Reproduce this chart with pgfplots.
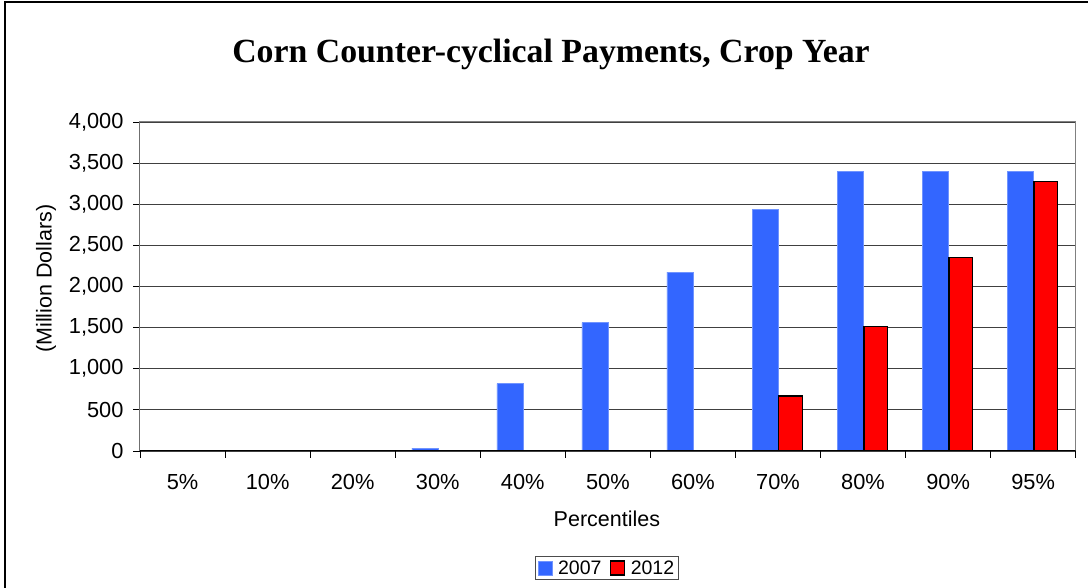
\documentclass[border=0pt]{standalone}
\usepackage{pgfplots}
\pgfplotsset{compat=1.18}
\usepackage{fontspec}
\setmainfont{Liberation Sans}
\newfontfamily\titlefont{Liberation Serif}
\definecolor{cblue}{HTML}{3366FF}
\definecolor{cred}{HTML}{FF0000}
\pgfplotstableread{
x y2007 y2012
0 0 0
1 0 0
2 0 0
3 35 0
4 819 0
5 1561 0
6 2176 0
7 2942 669
8 3396 1511
9 3396 2350
10 3396 3274
}\datatable
\begin{document}
\begin{tikzpicture}[x=1pt,y=1pt]
\path[use as bounding box] (0,0) rectangle (1088,588);
\draw[line width=2pt] (5,0) -- (5,585.5) -- (1088,585.5);
\node[anchor=base, font=\titlefont\bfseries\fontsize{33.8}{36}\selectfont] at (551,525) {Corn Counter-cyclical Payments, Crop Year};
\begin{axis}[
  at={(140pt,137pt)}, anchor=south west,
  scale only axis, width=935.7pt, height=329pt,
  xmin=-0.5, xmax=10.5, ymin=0, ymax=4000,
  ytick={0,500,...,4000},
  xtick={0,...,10},
  xticklabels={5\%,10\%,20\%,30\%,40\%,50\%,60\%,70\%,80\%,90\%,95\%},
  minor xtick={-0.5,0.5,...,10.5},
  major x tick style={draw=none},
  tick align=outside,
  major tick length=7pt, minor tick length=7pt,
  tick style={black, line width=0.8pt},
  xtick pos=bottom, ytick pos=left,
  ymajorgrids, major grid style={black!75, line width=0.9pt},
  axis line style={draw=black!50, line width=1pt},
  /pgf/number format/.cd, 1000 sep={,}, assume math mode=true,
  /pgfplots/.cd,
  tick label style={font=\fontsize{21.8}{24}\selectfont},
  yticklabel style={xshift=-6pt},
  xticklabel style={yshift=-13pt},
  ylabel={(Million Dollars)},
  ylabel style={at={(axis description cs:-0.1005,0.524)}, anchor=center, rotate=0, font=\fontsize{21.5}{24}\selectfont},
  xlabel={Percentiles},
  xlabel style={at={(axis description cs:0.499,-0.2067)}, anchor=center, font=\fontsize{21.5}{24}\selectfont},
  ybar, bar width=0.31,
  legend columns=2,
  legend style={at={(axis description cs:0.499,-0.3556)}, anchor=center, draw=black!70, line width=0.9pt,
    font=\fontsize{19.5}{22}\selectfont, inner sep=2pt, column sep=4pt,
    /tikz/every even column/.append style={column sep=6pt}},
  legend image code/.code={\draw[#1] (0pt,-7pt) rectangle (14pt,7pt);},
]
\addplot[fill=cblue, draw=cblue!70!white, line width=0.5pt, bar shift=-0.15] table[x=x, y=y2007] {\datatable};
\addplot[fill=cred, draw=black, line width=1.3pt, bar shift=0.15, bar width=0.28] table[x=x, y=y2012] {\datatable};
\legend{2007,2012}
\draw[black, line width=1pt] (rel axis cs:0,1) -- (rel axis cs:0,0) -- (rel axis cs:1,0);
\end{axis}
\end{tikzpicture}
\end{document}
